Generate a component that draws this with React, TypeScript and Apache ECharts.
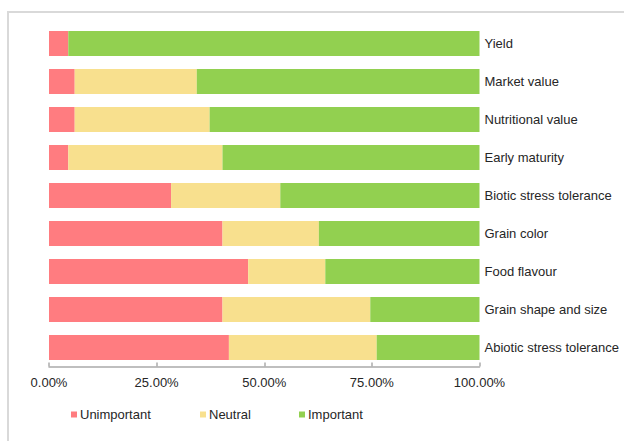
import React, { useEffect, useRef } from "react";
import * as echarts from "echarts";

const categories = [
  "Yield",
  "Market value",
  "Nutritional value",
  "Early maturity",
  "Biotic stress tolerance",
  "Grain color",
  "Food flavour",
  "Grain shape and size",
  "Abiotic stress tolerance",
];
const unimportant = [4.48, 5.97, 5.97, 4.48, 28.36, 40.3, 46.27, 40.3, 41.79];
const neutral = [0, 28.36, 31.34, 35.82, 25.37, 22.39, 17.91, 34.33, 34.33];
const important = [95.52, 65.67, 62.69, 59.7, 46.27, 37.31, 35.82, 25.37, 23.88];
const xTicks = [0, 25, 50, 75, 100];

const seriesNames = ["Unimportant", "Neutral", "Important"];
const seriesColors = ["#FF7C80", "#F8E08E", "#92D050"];
const seriesData = [unimportant, neutral, important];

export default function App() {
  const ref = useRef<HTMLDivElement>(null);
  useEffect(() => {
    if (!ref.current) return;
    const chart = echarts.init(ref.current, null, { renderer: "svg" });
    const font = "Liberation Sans, Arial, sans-serif";
    const legendLefts = [71, 200, 299];
    chart.setOption({
      animation: false,
      backgroundColor: "#ffffff",
      textStyle: { fontFamily: font },
      graphic: [
        {
          type: "rect",
          shape: { x: 8, y: 12, width: 700, height: 500 },
          style: { fill: "none", stroke: "#d9d9d9", lineWidth: 2 },
          silent: true,
          z: -1,
        },
      ],
      grid: { left: 49, right: 144.5, top: 24.5, bottom: 74.5, containLabel: false },
      legend: seriesNames.map((n, i) => ({
        data: [n],
        left: legendLefts[i],
        top: 408,
        itemWidth: 6,
        itemHeight: 6,
        icon: "rect",
        padding: 0,
        textStyle: { fontSize: 13, color: "#262626", fontFamily: font, padding: [0, 0, 0, -2] },
      })),
      xAxis: {
        type: "value",
        min: xTicks[0],
        max: xTicks[xTicks.length - 1],
        interval: 25,
        splitLine: { show: false },
        axisLine: { show: true, lineStyle: { color: "#ababab", width: 1.5 } },
        axisTick: { show: true, inside: true, length: 4, lineStyle: { color: "#ababab", width: 1.5 } },
        axisLabel: {
          margin: 9,
          fontSize: 13,
          color: "#262626",
          fontFamily: font,
          formatter: (v: number) => v.toFixed(2) + "%",
        },
      },
      yAxis: {
        type: "category",
        data: categories,
        inverse: true,
        position: "right",
        axisLine: { show: false },
        axisTick: { show: false },
        splitLine: { show: false },
        axisLabel: { margin: 5, fontSize: 13, color: "#262626", fontFamily: font },
      },
      series: seriesNames.map((n, i) => ({
        name: n,
        type: "bar",
        stack: "total",
        barWidth: 25,
        itemStyle: { color: seriesColors[i] },
        data: seriesData[i],
      })),
    });
    return () => chart.dispose();
  }, []);
  return (
    <div
      ref={ref}
      style={{ position: "fixed", left: 0, top: 0, width: 624, height: 441 }}
    />
  );
}
